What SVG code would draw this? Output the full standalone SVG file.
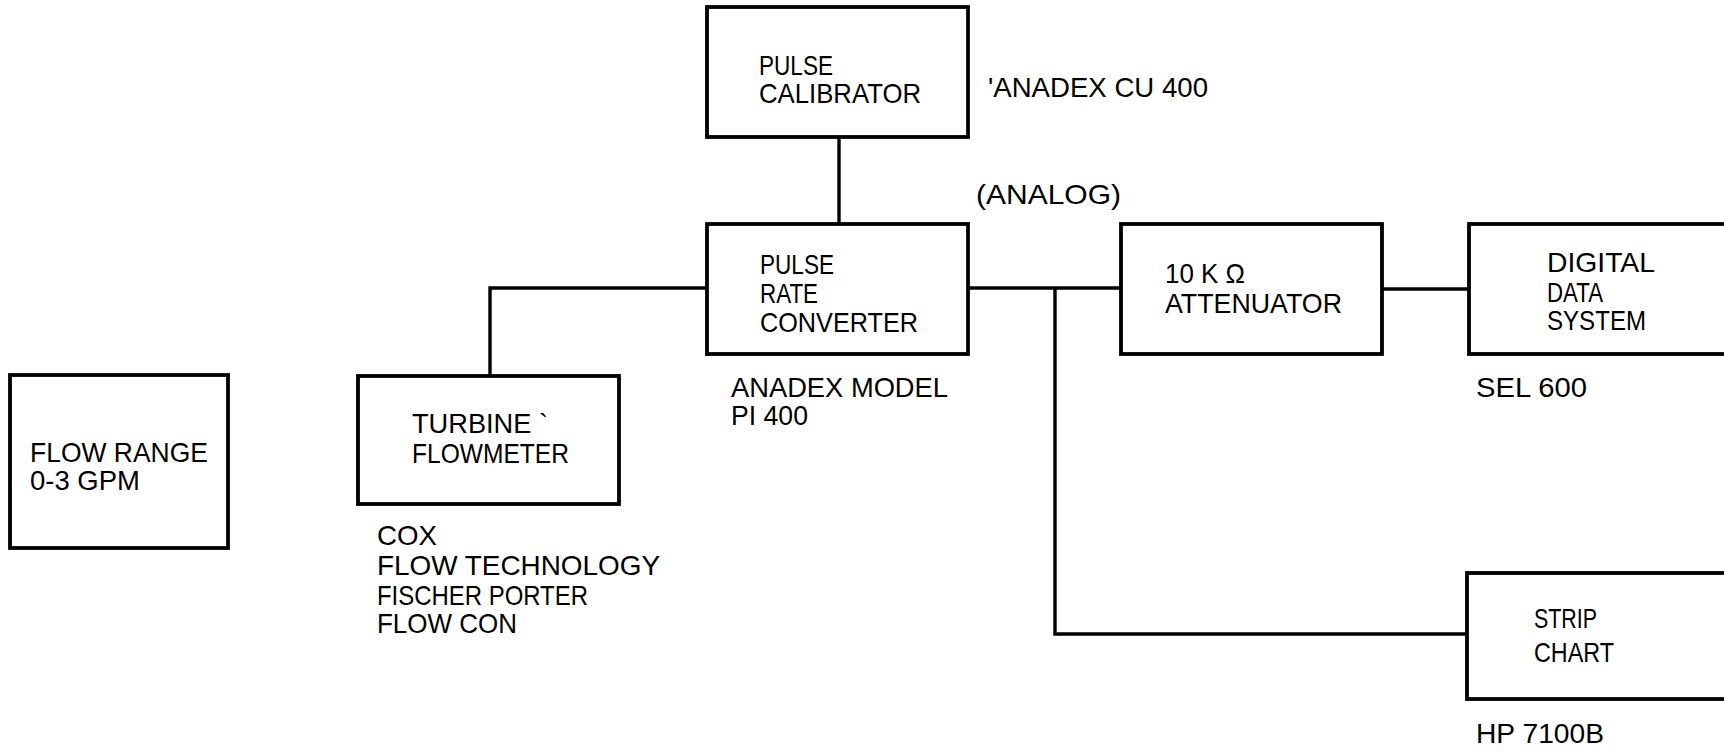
<svg xmlns="http://www.w3.org/2000/svg" width="1724" height="751" viewBox="0 0 1724 751">
<style>
.box{fill:#fff;stroke:#000;stroke-width:3.8}
.ln{fill:none;stroke:#000;stroke-width:3.4}
text{font-family:"Liberation Sans",Arial,sans-serif;font-size:28px;fill:#000}
</style>
<rect width="1724" height="751" fill="#fff"/>
<g id="connectors">
<path class="ln" d="M839,137 V224"/>
<path class="ln" d="M707,288 H490 V376"/>
<path class="ln" d="M968,288 H1121"/>
<path class="ln" d="M1055,288 V634 H1467"/>
<path class="ln" d="M1382,289 H1469"/>
</g>
<g id="flow-range">
<rect class="box" x="10" y="375" width="218" height="173"/>
<text x="30" y="462" textLength="178" lengthAdjust="spacingAndGlyphs">FLOW RANGE</text>
<text x="30" y="490" textLength="110" lengthAdjust="spacingAndGlyphs">0-3 GPM</text>
</g>
<g id="turbine-flowmeter">
<rect class="box" x="358" y="376" width="261" height="128"/>
<text x="412" y="433" textLength="136" lengthAdjust="spacingAndGlyphs">TURBINE  `</text>
<text x="412" y="463" textLength="157" lengthAdjust="spacingAndGlyphs">FLOWMETER</text>
<text x="377" y="545" textLength="60" lengthAdjust="spacingAndGlyphs">COX</text>
<text x="377" y="575" textLength="283" lengthAdjust="spacingAndGlyphs">FLOW TECHNOLOGY</text>
<text x="377" y="605" textLength="211" lengthAdjust="spacingAndGlyphs">FISCHER PORTER</text>
<text x="377" y="633" textLength="140" lengthAdjust="spacingAndGlyphs">FLOW CON</text>
</g>
<g id="pulse-calibrator">
<rect class="box" x="707" y="7" width="261" height="130"/>
<text x="759" y="75" textLength="74" lengthAdjust="spacingAndGlyphs">PULSE</text>
<text x="759" y="103" textLength="162" lengthAdjust="spacingAndGlyphs">CALIBRATOR</text>
<text x="988" y="97" textLength="220" lengthAdjust="spacingAndGlyphs">'ANADEX CU 400</text>
</g>
<g id="pulse-rate-converter">
<rect class="box" x="707" y="224" width="261" height="130"/>
<text x="760" y="274" textLength="74" lengthAdjust="spacingAndGlyphs">PULSE</text>
<text x="760" y="303" textLength="58" lengthAdjust="spacingAndGlyphs">RATE</text>
<text x="760" y="332" textLength="158" lengthAdjust="spacingAndGlyphs">CONVERTER</text>
<text x="731" y="397" textLength="217" lengthAdjust="spacingAndGlyphs">ANADEX MODEL</text>
<text x="731" y="425" textLength="77" lengthAdjust="spacingAndGlyphs">PI 400</text>
</g>
<g id="analog-label">
<text x="976" y="204" textLength="145" lengthAdjust="spacingAndGlyphs">(ANALOG)</text>
</g>
<g id="attenuator">
<rect class="box" x="1121" y="224" width="261" height="130"/>
<text x="1165" y="283" textLength="80" lengthAdjust="spacingAndGlyphs">10 K Ω</text>
<text x="1165" y="313" textLength="177" lengthAdjust="spacingAndGlyphs">ATTENUATOR</text>
</g>
<g id="digital-data-system">
<rect class="box" x="1469" y="224" width="270" height="130"/>
<text x="1547" y="272" textLength="108" lengthAdjust="spacingAndGlyphs">DIGITAL</text>
<text x="1547" y="302" textLength="56" lengthAdjust="spacingAndGlyphs">DATA</text>
<text x="1547" y="330" textLength="99" lengthAdjust="spacingAndGlyphs">SYSTEM</text>
<text x="1476" y="397" textLength="111" lengthAdjust="spacingAndGlyphs">SEL 600</text>
</g>
<g id="strip-chart">
<rect class="box" x="1467" y="573" width="270" height="126"/>
<text x="1534" y="628" textLength="63" lengthAdjust="spacingAndGlyphs">STRIP</text>
<text x="1534" y="662" textLength="80" lengthAdjust="spacingAndGlyphs">CHART</text>
<text x="1476" y="743" textLength="128" lengthAdjust="spacingAndGlyphs">HP 7100B</text>
</g>
</svg>
